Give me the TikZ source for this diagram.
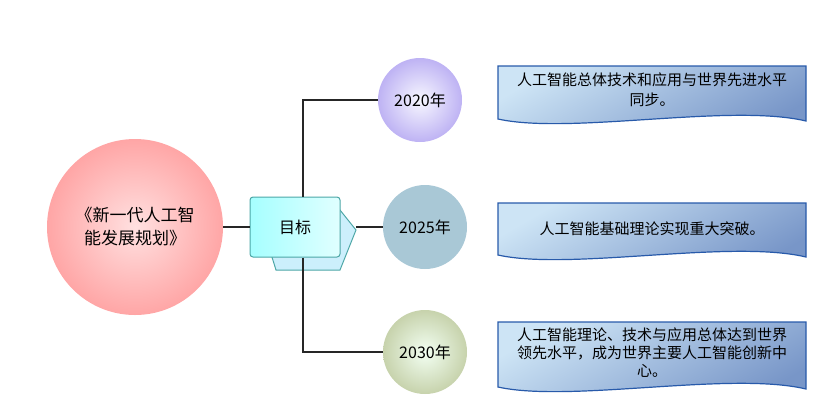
\documentclass[tikz,border=0pt]{standalone}
\usepackage{fontspec}
\setmainfont{Noto Sans CJK SC}
\definecolor{banT}{RGB}{205,228,245}
\definecolor{banB}{RGB}{120,150,200}
\definecolor{banD}{RGB}{40,90,170}
\begin{document}
\begin{tikzpicture}[x=1pt,y=-1pt,
  ln/.style={line width=1.2pt,black!85},
  yr/.style={circle,minimum size=84pt,inner sep=0pt,font=\fontsize{16}{19}\selectfont},
  ban/.style={draw=banD,line width=1.2pt,top color=banT,bottom color=banB,shading angle=30}]
\useasboundingbox (0,0) rectangle (826,400);
\node[circle,minimum size=176pt,inner sep=0pt,shading=radial,inner color=red!12,outer color=red!35,align=center,font=\fontsize{17}{23}\selectfont] (main) at (135,227) {《新一代人工智\\能发展规划》};
\draw[draw=teal!70,line width=1pt,fill=cyan!20] (262,225) -- (276,270) -- (340,270) -- (356,230) -- (340,210) -- (330,205) -- cycle;
\node[draw=teal!70,line width=1pt,rounded corners=3pt,minimum width=90pt,minimum height=60pt,left color=cyan!35,right color=cyan!12,font=\fontsize{16}{19}\selectfont] (goal) at (295,227) {目标};
\coordinate (gr) at (356,227);
\node[yr,shading=radial,inner color=blue!3,outer color=violet!30!blue!30] (y1) at (420,100) {2020年};
\node[yr,fill=blue!30!cyan!35!gray!50] (y2) at (425,227) {2025年};
\node[yr,shading=radial,inner color=green!5,outer color=green!30!yellow!30!gray!50] (y3) at (425,352) {2030年};
\coordinate (top) at (303,100);
\coordinate (bot) at (303,352);
\draw[ln] (main.east) -- (goal.west);
\draw[ln] (goal.north) ++(8,0) coordinate (gt) -- (gt|-top) -- (y1.west);
\draw[ln] (goal.south) ++(8,0) coordinate (gb) -- (gb|-bot) -- (y3.west);
\draw[ln] (gr) -- (y2.west);
\foreach \t/\b in {66/125,203/261,322/393}{
  \draw[ban] (498,\t) -- (806,\t) -- (806,\b-4) .. controls (730,\b-22) and (570,\b+10) .. (498,\b-6) -- cycle;
}
\node[align=center,font=\fontsize{15}{20}\selectfont] (t1) at (652,90) {人工智能总体技术和应用与世界先进水平\\同步。};
\node[font=\fontsize{15}{20}\selectfont] (t2) at (652,229) {人工智能基础理论实现重大突破。};
\node[align=center,font=\fontsize{15}{18}\selectfont] (t3) at (652,353) {人工智能理论、技术与应用总体达到世界\\领先水平，成为世界主要人工智能创新中\\心。};
\end{tikzpicture}
\end{document}
